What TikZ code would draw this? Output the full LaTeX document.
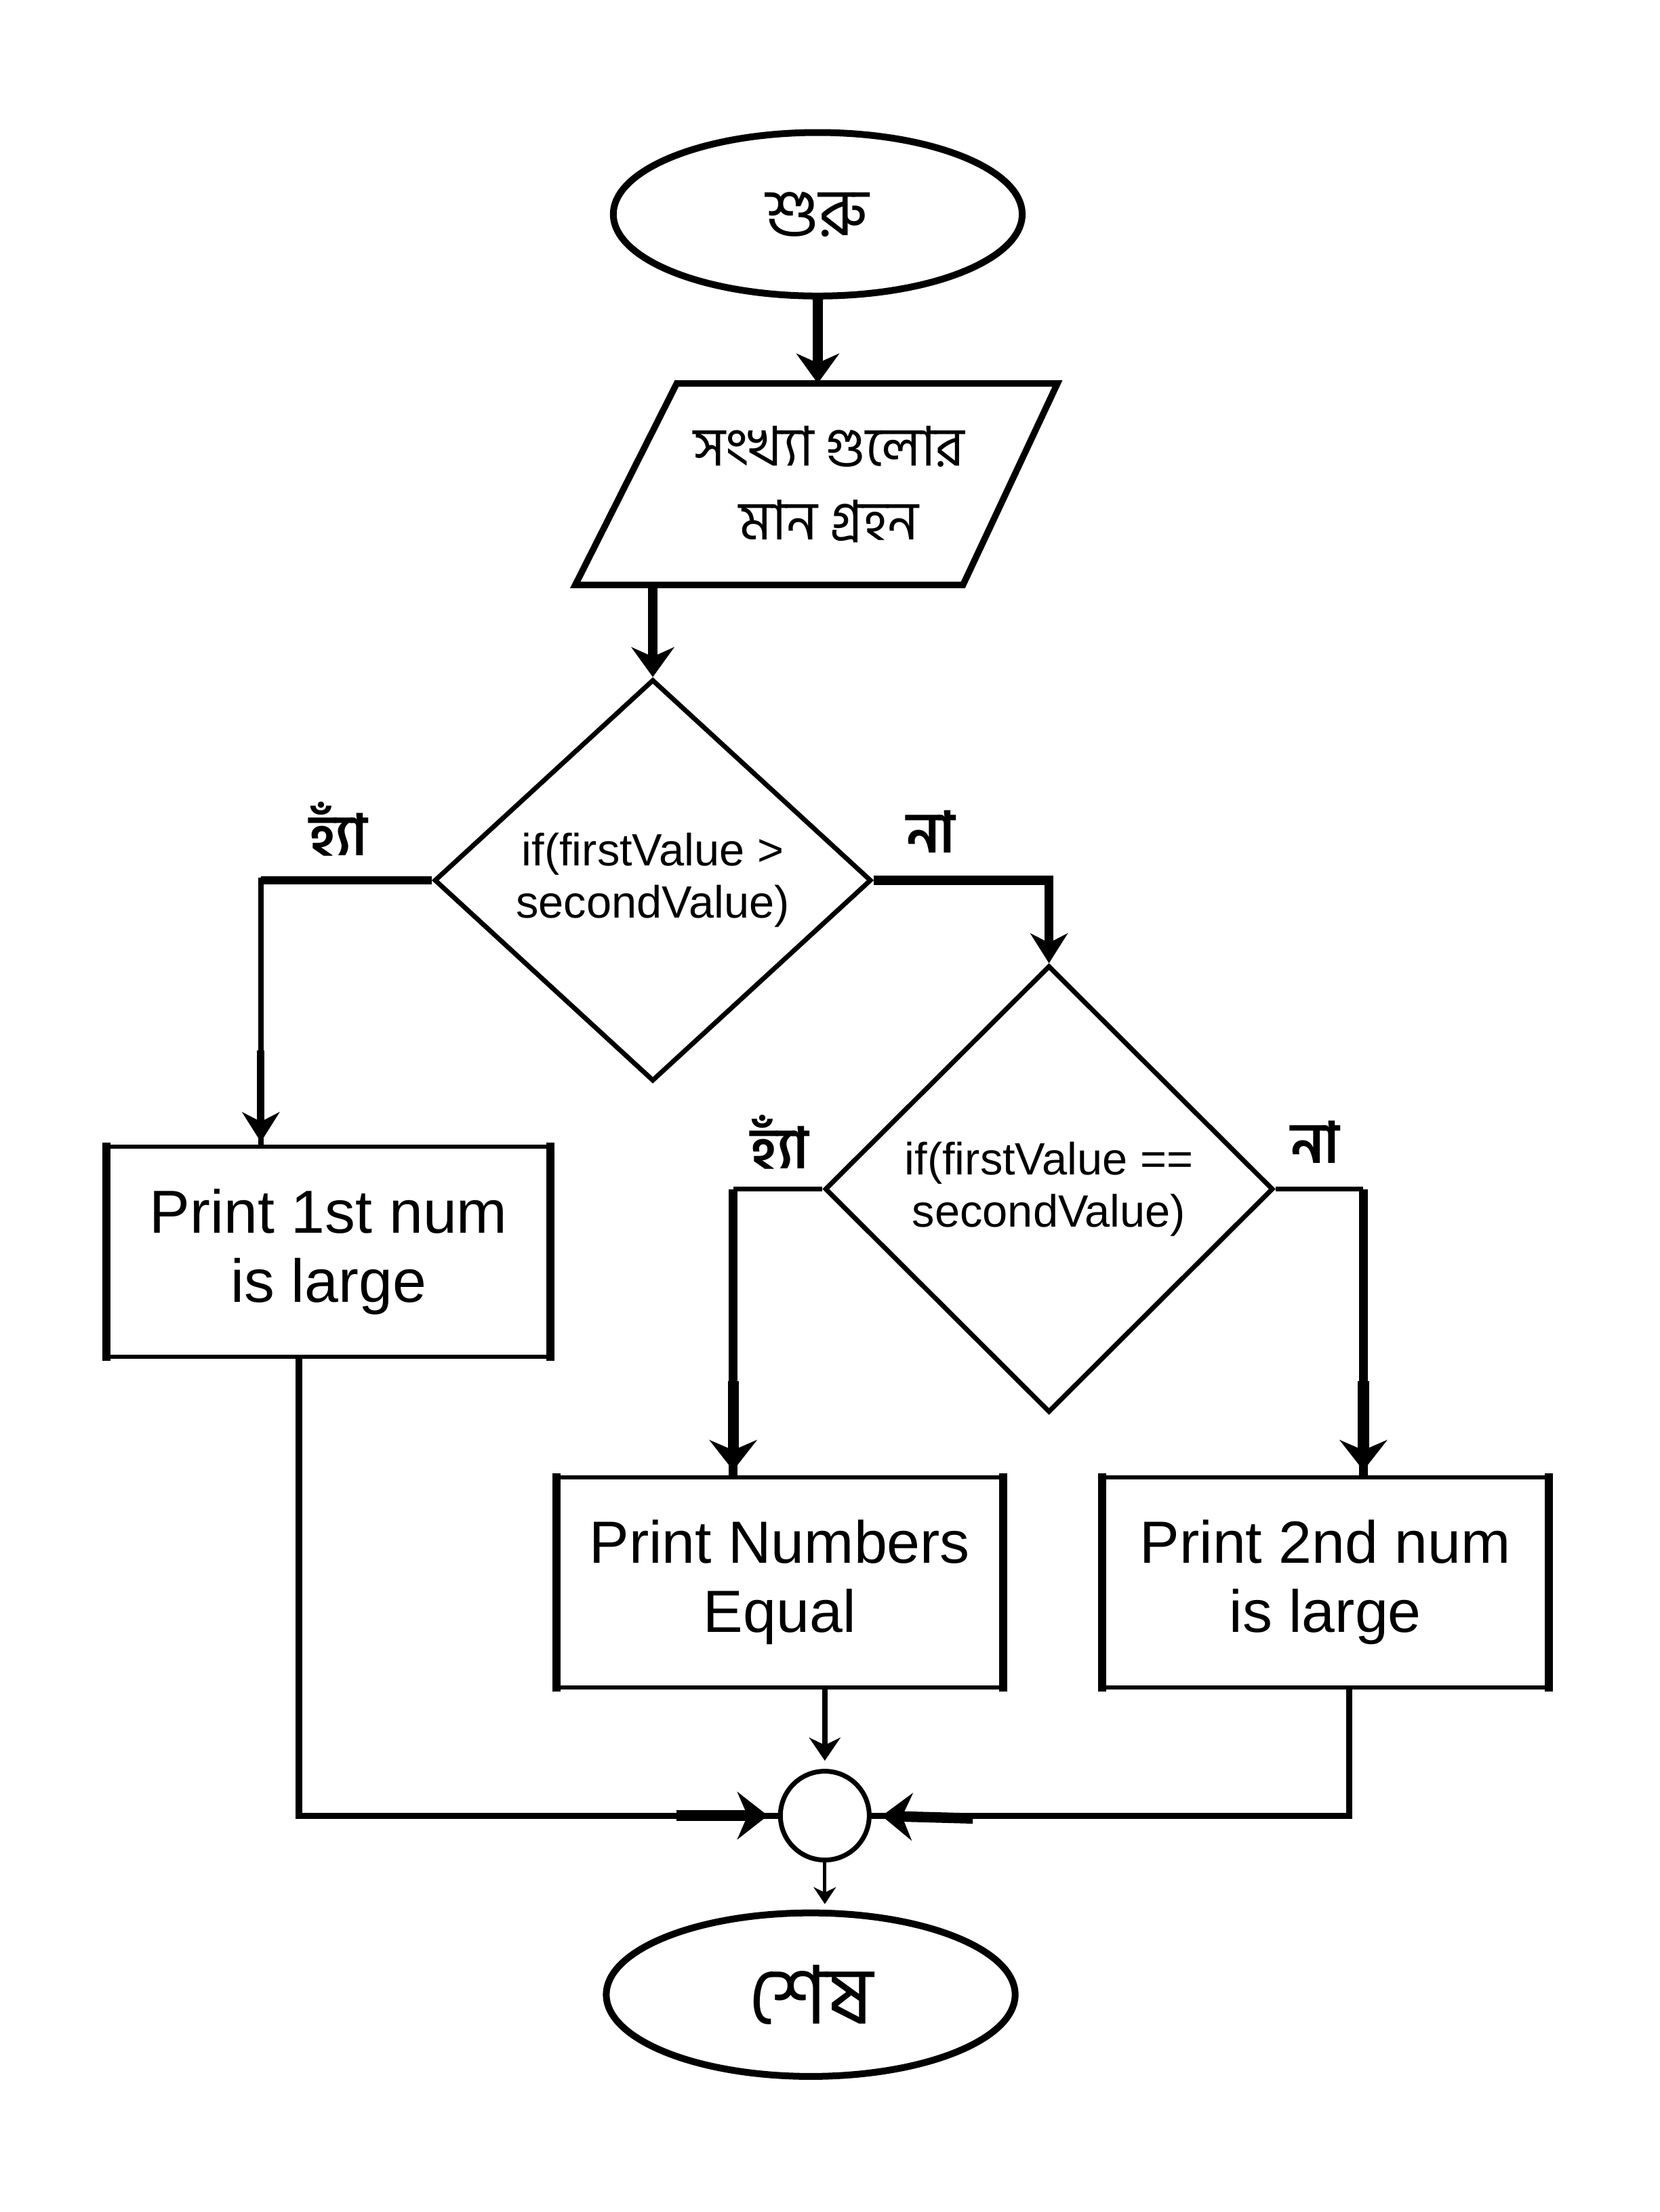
\documentclass[tikz,border=0pt]{standalone}
\usepackage{fontspec}
\setmainfont{Liberation Sans}
\newfontfamily\bn[Script=Bengali]{Hind Siliguri}
\usetikzlibrary{shapes.geometric,arrows.meta}
\newcommand\ux{0.208mm}
\begin{document}
\begin{tikzpicture}[x=0.208mm,y=-0.208mm,
  term/.style={ellipse,draw,line width=2.85pt,minimum width=290*\ux,minimum height=116*\ux,inner sep=0pt},
  dec/.style={diamond,draw,line width=2pt,inner sep=0pt,align=center,font=\fontsize{19}{22}\selectfont},
  procbox/.style={rectangle,draw,line width=1.7pt,inner sep=0pt,minimum width=312*\ux,minimum height=149*\ux,align=center,font=\fontsize{25}{29}\selectfont},
  side/.style={line width=3.3pt,line cap=butt},
  lbl/.style={font=\bn\bfseries\fontsize{24}{26}\selectfont,inner sep=0pt},
  tipbig/.style={-{Stealth[length=4.4mm,width=6.3mm,inset=1.4mm]}},
  tipmid/.style={-{Stealth[length=4.4mm,width=5.5mm,inset=1.4mm]}},
  tipwide/.style={-{Stealth[length=4.5mm,width=7mm,inset=1.5mm]}},
  tipsmall/.style={-{Stealth[length=3.4mm,width=4.6mm,inset=1.1mm]}},
  tiptiny/.style={-{Stealth[length=2.5mm,width=3.3mm,inset=0.8mm]}}]
\fill[white] (0,0) rectangle (1177,1569.2);
\useasboundingbox (0,0) rectangle (1177,1569.2);

% start
\node[term,font=\bn\fontsize{28}{30}\selectfont] (start) at (580,152) {শুরু};

% input parallelogram
\draw[line width=2.7pt,line join=miter] (480,272) -- (750,272) -- (683,415) -- (408,415) -- cycle;
\node[inner sep=0pt,minimum height=143*\ux,minimum width=150*\ux,align=center,
      font=\bn\fontsize{23}{31}\selectfont] (para) at (588,343.5) {সংখ্যা গুলোর\\ মান গ্রহন};

% decisions
\node[dec,minimum width=310*\ux,minimum height=285*\ux] (d1) at (463,624.5) {if(firstValue >\\ secondValue)};
\node[dec,minimum width=318*\ux,minimum height=317*\ux] (d2) at (744,843.5) {if(firstValue ==\\ secondValue)};

% process boxes
\node[procbox,font=\fontsize{25.5}{29}\selectfont] (r1) at (233,888) {Print 1st num\\ is large};
\node[procbox,minimum width=314*\ux] (r2) at (553,1122.5) {Print Numbers\\ Equal};
\node[procbox,minimum width=314*\ux] (r3) at (940,1122.5) {Print 2nd num\\ is large};
\foreach \b in {r1,r2,r3}{
  \draw[side] ([yshift=0.85pt]\b.north west) -- ([yshift=-0.85pt]\b.south west);
  \draw[side] ([yshift=0.85pt]\b.north east) -- ([yshift=-0.85pt]\b.south east);
}

% connector circle and end
\node[circle,draw,line width=2pt,minimum size=63*\ux,inner sep=0pt] (join) at (585,1288) {};
\node[term,font=\bn\fontsize{34}{36}\selectfont] (stop) at (575,1415) {শেষ};

% labels
\node[lbl] (y1) at (240,588) {হ্যাঁ};
\node[lbl] (n1) at (660,590) {না};
\node[lbl] (y2) at (553,810) {হ্যাঁ};
\node[lbl] (n2) at (933,810) {না};

% helper coordinates
\coordinate (c1) at (185,814);
\coordinate (c2) at (520,1048);
\coordinate (c3) at (967,1048);
\coordinate (c4) at (212,962);
\coordinate (c5) at (957,1197);

% connectors
\draw[tipbig,line width=4.3pt] (start.south) -- (start.south |- 0,272);
\draw[tipbig,line width=4pt] (d1.north |- para.south) -- (d1.north);

\draw[line width=2.4pt] (d1.west) -| (c1);
\draw[line width=3.4pt] (d1.west) -- (c1 |- d1.west);
\draw[tipmid,line width=3.2pt,shorten >=0.8mm] (185,745) -- (c1);

\draw[line width=3.4pt] (d1.east) -- (d2.north |- d1.east);
\draw[tipmid,line width=3.8pt] (d1.east) -| (d2.north);

\draw[line width=1.8pt] (d2.west) -- (c2 |- d2.west);
\draw[line width=3.6pt] (c2 |- d2.west) -- (c2);
\draw[tipwide,line width=4.6pt,shorten >=1mm] (520,980) -- (c2);
\draw[line width=1.8pt] (d2.east) -- (c3 |- d2.east);
\draw[line width=3.6pt] (c3 |- d2.east) -- (c3);
\draw[tipwide,line width=4.6pt,shorten >=1mm] (967,980) -- (c3);

\draw[line width=2.6pt] (c4) |- (join.west);
\draw[tipwide,line width=4.4pt,shorten >=1.5mm] (480,1288) -- (join.west);
\draw[line width=2.6pt] (c5) |- (join.east);
\draw[tipwide,line width=4.4pt,shorten >=1.5mm] (690,1290) -- (join.east);

\draw[tipsmall,line width=2.4pt,shorten >=1.2mm] (join.north |- r2.south) -- (join.north);
\draw[tiptiny,line width=1.5pt,shorten >=0.8mm] (join.south) -- (join.south |- stop.north);
\end{tikzpicture}
\end{document}
